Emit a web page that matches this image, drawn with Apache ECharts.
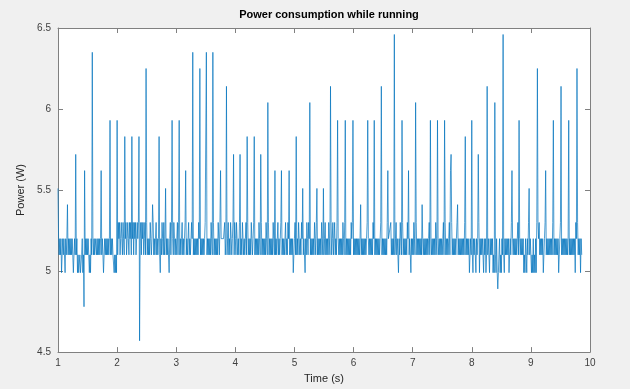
<!DOCTYPE html>
<html>
<head>
<meta charset="utf-8">
<script src="https://cdn.jsdelivr.net/npm/echarts@6/dist/echarts.min.js"></script>
<style>
html, body { margin: 0; padding: 0; background: #f0f0f0; }
#main { width: 630px; height: 389px; }
</style>
</head>
<body>
<div id="main"></div>
<script>
// sampling clock of the logger (s)
var t0 = 1.0;
var dt = 0.01;
// power readings (W), one line = 0.1 s
var power = [
	5.51, 5.2, 5.1, 5.2, 5.1, 5.2, 4.99, 5.1, 5.2, 5.1,     // 1.0
	5.2, 5.1, 4.99, 5.2, 5.1, 5.2, 5.41, 5.1, 5.2, 5.1,
	5.2, 5.1, 5.2, 5.1, 5.2, 5.1, 4.99, 5.1, 5.2, 5.1,      // 1.2
	5.72, 5.1, 5.2, 4.99, 5.1, 4.99, 4.99, 5.1, 4.99, 4.99,
	5.1, 5.2, 4.99, 5.1, 4.78, 5.62, 5.1, 5.2, 5.1, 5.2,    // 1.4
	5.1, 5.2, 5.1, 4.99, 5.1, 4.99, 5.2, 5.1, 6.35, 5.2,
	5.1, 5.2, 5.1, 5.2, 5.2, 5.1, 5.2, 5.1, 5.2, 5.1,       // 1.6
	5.2, 5.1, 5.2, 5.62, 5.1, 5.2, 5.1, 4.99, 5.1, 5.2,
	5.1, 5.2, 5.1, 5.2, 5.1, 5.2, 5.1, 5.2, 5.93, 5.1,      // 1.8
	5.2, 5.1, 5.2, 5.1, 5.1, 4.99, 5.1, 4.99, 5.1, 4.99,
	5.93, 5.1, 5.3, 5.2, 5.3, 5.1, 5.2, 5.3, 5.2, 5.1,      // 2.0
	5.3, 5.2, 5.1, 5.83, 5.2, 5.3, 5.1, 5.2, 5.3, 5.2,
	5.1, 5.3, 5.2, 5.3, 5.1, 5.83, 5.2, 5.3, 5.1, 5.3,      // 2.2
	5.2, 5.3, 5.1, 5.2, 5.3, 5.2, 5.3, 5.83, 4.57, 5.2,
	5.3, 5.1, 5.3, 5.2, 5.3, 5.1, 5.2, 5.3, 5.1, 6.25,      // 2.4
	5.3, 5.1, 5.2, 5.1, 5.2, 5.1, 5.3, 5.2, 5.1, 5.2,
	5.41, 5.3, 5.1, 5.2, 5.1, 5.2, 5.3, 5.1, 5.2, 5.1,      // 2.6
	5.2, 5.83, 5.1, 4.99, 5.2, 5.1, 5.3, 5.2, 5.1, 5.3,
	5.1, 5.2, 5.51, 5.1, 5.2, 5.1, 5.2, 5.1, 4.99, 5.2,     // 2.8
	5.3, 5.1, 5.3, 5.93, 5.2, 5.1, 5.3, 5.2, 5.1, 5.2,
	5.1, 5.2, 5.3, 5.1, 5.3, 5.93, 5.1, 5.2, 5.1, 5.2,      // 3.0
	5.3, 5.1, 5.2, 5.1, 5.2, 5.3, 5.62, 5.1, 5.2, 5.1,
	5.2, 5.3, 5.1, 5.2, 5.1, 5.2, 5.3, 5.2, 6.35, 5.1,      // 3.2
	5.2, 5.1, 5.2, 5.1, 5.2, 5.1, 5.2, 5.1, 5.3, 5.2,
	6.25, 5.1, 5.2, 5.1, 5.2, 5.1, 5.2, 5.1, 5.2, 5.3,      // 3.4
	5.3, 6.35, 5.1, 5.2, 5.1, 5.2, 5.1, 5.2, 5.1, 5.3,
	5.2, 5.1, 6.35, 5.3, 5.1, 5.2, 5.1, 5.2, 5.1, 5.2,      // 3.6
	5.1, 5.3, 5.2, 5.1, 5.3, 5.62, 5.2, 5.2, 5.2, 5.2,
	5.2, 5.2, 5.3, 5.1, 5.2, 6.14, 5.1, 5.2, 5.3, 5.1,      // 3.8
	5.2, 5.1, 5.3, 5.2, 5.1, 5.2, 5.3, 5.72, 5.1, 5.3,
	5.2, 5.1, 5.3, 5.2, 5.1, 5.2, 5.1, 5.3, 5.72, 5.1,      // 4.0
	5.2, 5.1, 5.3, 5.2, 5.1, 5.2, 5.1, 5.2, 5.3, 5.1,
	5.83, 5.3, 5.1, 5.2, 5.1, 5.2, 5.1, 5.3, 5.2, 5.1,      // 4.2
	5.2, 5.3, 5.83, 5.1, 5.2, 5.1, 5.2, 5.1, 5.2, 5.1,
	5.3, 5.2, 5.1, 5.72, 5.3, 5.1, 5.2, 5.1, 5.2, 5.1,      // 4.4
	5.2, 5.1, 5.3, 5.2, 5.1, 6.04, 5.3, 5.1, 5.2, 5.1,
	5.2, 5.1, 5.2, 5.1, 5.3, 5.2, 5.1, 5.62, 5.1, 5.2,      // 4.6
	5.1, 5.2, 5.3, 5.1, 5.2, 5.1, 5.2, 5.3, 5.62, 5.1,
	5.2, 5.1, 5.2, 5.1, 5.2, 5.3, 5.1, 5.2, 5.1, 5.3,       // 4.8
	5.2, 5.62, 5.1, 5.2, 5.1, 5.2, 5.1, 5.2, 4.99, 5.1,
	5.2, 5.3, 5.1, 5.83, 5.1, 5.2, 5.1, 5.3, 5.2, 5.1,      // 5.0
	5.2, 5.1, 5.3, 5.2, 5.51, 5.1, 5.2, 5.1, 4.99, 5.2,
	5.1, 5.3, 5.2, 5.1, 5.3, 5.2, 6.04, 5.1, 5.2, 5.1,      // 5.2
	5.2, 5.1, 5.2, 5.1, 5.3, 5.2, 5.1, 5.3, 5.51, 5.1,
	5.2, 5.1, 5.2, 5.1, 5.2, 5.1, 5.3, 5.2, 5.1, 5.51,      // 5.4
	5.1, 5.2, 5.3, 5.1, 5.2, 5.1, 5.2, 5.1, 5.3, 5.2,
	5.1, 6.14, 5.3, 5.1, 5.2, 5.3, 5.1, 5.2, 5.3, 5.1,      // 5.6
	5.2, 5.1, 5.3, 5.93, 5.2, 5.1, 5.2, 5.1, 5.2, 5.1,
	5.2, 5.1, 5.3, 5.2, 5.1, 5.3, 5.93, 5.1, 5.2, 5.1,      // 5.8
	5.2, 5.1, 5.2, 5.1, 5.2, 5.1, 5.3, 5.2, 5.3, 5.93,
	5.1, 5.2, 5.1, 5.2, 5.1, 5.2, 5.1, 5.2, 5.1, 5.2,       // 6.0
	5.1, 5.2, 5.41, 5.1, 5.2, 5.1, 5.2, 5.1, 5.2, 5.1,
	5.2, 5.1, 5.2, 5.3, 5.93, 5.2, 5.1, 5.2, 5.1, 5.2,      // 6.2
	5.1, 5.2, 5.1, 5.3, 5.2, 5.93, 5.1, 5.2, 5.1, 5.2,
	5.1, 5.2, 5.1, 5.2, 5.1, 5.2, 5.3, 6.14, 5.1, 5.2,      // 6.4
	5.1, 5.2, 5.1, 5.2, 5.1, 5.2, 5.1, 5.3, 5.62, 5.2,
	5.2, 5.2, 5.2, 5.3, 5.1, 5.2, 5.1, 5.2, 5.1, 6.46,      // 6.6
	5.1, 5.2, 5.3, 5.1, 5.2, 5.1, 4.99, 5.2, 5.1, 5.3,
	5.2, 5.1, 5.93, 5.3, 5.1, 5.2, 5.1, 5.2, 5.1, 5.2,      // 6.8
	5.1, 5.3, 5.2, 5.62, 5.1, 5.2, 5.1, 4.99, 5.2, 5.1,
	5.2, 5.1, 5.3, 5.2, 5.1, 6.04, 5.3, 5.1, 5.2, 5.1,      // 7.0
	5.2, 5.1, 5.2, 5.1, 5.2, 5.1, 5.41, 5.2, 5.1, 5.2,
	5.1, 5.2, 5.1, 5.2, 5.1, 5.2, 5.1, 5.2, 5.3, 5.1,       // 7.2
	5.93, 5.2, 5.1, 5.2, 5.1, 5.2, 5.1, 5.2, 5.1, 5.3,
	5.2, 5.1, 5.93, 5.2, 5.1, 5.2, 5.1, 5.2, 5.1, 5.2,      // 7.4
	5.1, 5.2, 5.3, 5.1, 5.93, 5.3, 5.1, 5.2, 5.1, 5.2,
	5.1, 5.2, 5.3, 5.1, 5.62, 5.72, 5.3, 5.1, 5.2, 5.1,     // 7.6
	5.2, 5.1, 5.2, 5.1, 5.2, 5.3, 5.41, 5.1, 5.2, 5.1,
	5.2, 5.1, 5.2, 5.1, 5.2, 5.1, 5.2, 5.1, 5.3, 5.83,      // 7.8
	5.1, 5.2, 5.1, 5.2, 5.1, 5.2, 4.99, 5.1, 5.2, 5.1,
	5.93, 5.1, 4.99, 5.2, 5.1, 5.2, 5.1, 4.99, 5.2, 5.1,    // 8.0
	5.2, 5.72, 5.3, 4.99, 5.2, 5.1, 5.2, 5.1, 5.2, 5.1,
	4.99, 5.2, 5.1, 5.2, 4.99, 5.1, 6.14, 5.1, 5.2, 5.1,    // 8.2
	4.99, 5.2, 5.1, 5.2, 5.1, 5.2, 4.99, 5.1, 4.99, 6.04,
	5.1, 4.99, 5.2, 4.99, 4.89, 4.99, 5.1, 5.2, 4.99, 5.1,  // 8.4
	4.99, 5.2, 5.1, 6.46, 5.1, 4.99, 5.2, 5.1, 5.2, 5.1,
	5.2, 5.1, 5.2, 4.99, 5.1, 5.2, 5.1, 5.3, 5.62, 5.2,     // 8.6
	5.1, 5.2, 5.1, 5.2, 5.1, 5.2, 5.1, 5.2, 5.3, 5.1,
	5.93, 5.2, 5.1, 5.2, 5.1, 5.2, 5.1, 5.2, 4.99, 5.1,     // 8.8
	4.99, 5.2, 5.1, 4.99, 5.2, 5.1, 5.3, 5.51, 5.1, 5.2,
	5.1, 4.99, 5.1, 4.99, 5.2, 4.99, 5.1, 4.99, 5.2, 4.99,  // 9.0
	5.3, 6.25, 5.3, 5.2, 5.3, 5.1, 5.2, 5.1, 5.2, 5.1,
	5.2, 4.99, 5.1, 5.2, 5.3, 5.62, 5.1, 5.2, 5.1, 5.2,     // 9.2
	5.1, 5.2, 5.1, 5.2, 5.1, 5.2, 5.1, 5.3, 5.93, 5.1,
	5.2, 5.1, 5.2, 5.1, 5.2, 5.1, 5.2, 4.99, 5.1, 5.2,      // 9.4
	5.3, 6.14, 5.1, 5.2, 5.1, 5.2, 5.1, 5.2, 5.1, 5.2,
	5.1, 5.2, 5.1, 5.2, 5.93, 5.1, 5.2, 5.1, 5.2, 5.1,      // 9.6
	5.2, 5.1, 5.2, 5.1, 5.2, 4.99, 5.3, 5.2, 6.25, 5.3,
	5.1, 5.2, 5.1, 5.2, 4.99, 5.2, 5.1                      // 9.8
];
var xTicks = [1, 2, 3, 4, 5, 6, 7, 8, 9, 10];
var yTicks = [4.5, 5, 5.5, 6, 6.5];

var points = [];
for (var i = 0; i < power.length; i++) {
	points.push([t0 + i * dt, power[i]]);
}

var myChart = echarts.init(document.getElementById('main'));
var axisGrey = '#808080';
var labelColor = '#404040';
var fontName = 'Liberation Sans';

var option = {
	animation : false,
	backgroundColor : '#f0f0f0',
	title : {
		text : 'Power consumption while running',
		left : 324,
		top : 4,
		textAlign : 'center',
		textStyle : {
			fontFamily : fontName,
			fontSize : 11,
			fontWeight : 'bold',
			color : '#000'
		}
	},
	grid : {
		left : 58,
		right : 40,
		top : 28,
		bottom : 28,
		show : true,
		backgroundColor : '#fff',
		borderWidth : 0
	},
	xAxis : [
		{
			type : 'value',
			min : xTicks[0],
			max : xTicks[xTicks.length - 1],
			interval : 1,
			name : 'Time (s)',
			nameLocation : 'middle',
			nameGap : 16,
			nameTextStyle : { fontFamily : fontName, fontSize : 11, color : '#262626' },
			axisLine : { lineStyle : { color : axisGrey } },
			axisTick : { inside : true, length : 5, lineStyle : { color : axisGrey } },
			axisLabel : { margin : 6, fontFamily : fontName, fontSize : 10, color : labelColor },
			splitLine : { show : false }
		},
		{
			type : 'value',
			position : 'top',
			min : xTicks[0],
			max : xTicks[xTicks.length - 1],
			interval : 1,
			axisLine : { lineStyle : { color : axisGrey } },
			axisTick : { inside : true, length : 5, lineStyle : { color : axisGrey } },
			axisLabel : { show : false },
			splitLine : { show : false }
		}
	],
	yAxis : [
		{
			type : 'value',
			min : yTicks[0],
			max : yTicks[yTicks.length - 1],
			interval : 0.5,
			name : 'Power (W)',
			nameLocation : 'middle',
			nameGap : 32,
			nameTextStyle : { fontFamily : fontName, fontSize : 11, color : '#262626' },
			axisLine : { show : true, lineStyle : { color : axisGrey } },
			axisTick : { show : true, inside : true, length : 5, lineStyle : { color : axisGrey } },
			axisLabel : { margin : 7, fontFamily : fontName, fontSize : 10, color : labelColor },
			splitLine : { show : false }
		},
		{
			type : 'value',
			position : 'right',
			min : yTicks[0],
			max : yTicks[yTicks.length - 1],
			interval : 0.5,
			axisLine : { show : true, lineStyle : { color : axisGrey } },
			axisTick : { show : true, inside : true, length : 5, lineStyle : { color : axisGrey } },
			axisLabel : { show : false },
			splitLine : { show : false }
		}
	],
	series : [
		{
			type : 'line',
			data : points,
			showSymbol : false,
			symbol : 'none',
			sampling : null,
			lineStyle : { color : '#0072BD', width : 0.7 },
			z : 1
		}
	]
};
myChart.setOption(option);
</script>
</body>
</html>
